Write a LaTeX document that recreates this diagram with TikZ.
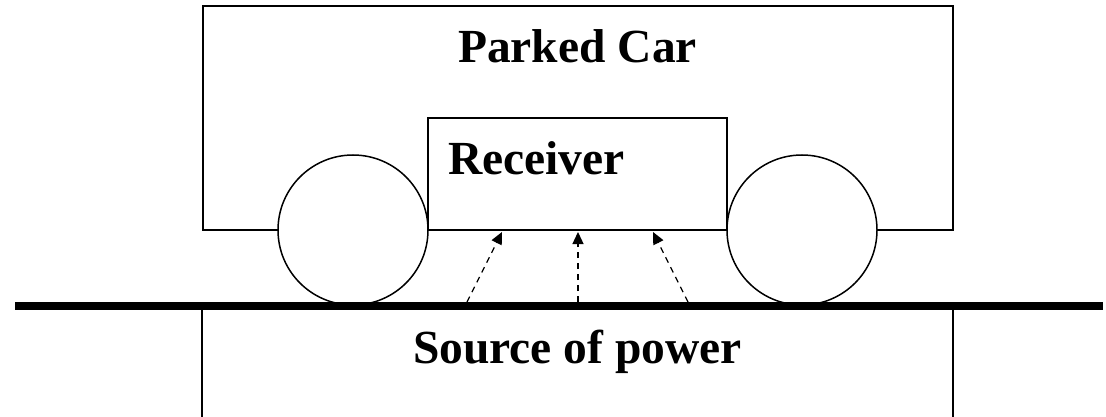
\documentclass[tikz,border=0pt]{standalone}
\usepackage{fontspec}
\setmainfont{Liberation Serif}
\usetikzlibrary{arrows.meta}
\begin{document}
\begin{tikzpicture}[x=1pt,y=-1pt,
  outline/.style={draw=black,line width=1.5pt},
  wheel/.style={outline,fill=white},
  caption/.style={font=\fontsize{47.5}{57}\selectfont\bfseries,anchor=base,inner sep=0pt},
  ray/.style={draw=black,line width=1.3pt,dash pattern=on 6pt off 5pt,
              -{Triangle[length=12pt,width=11pt]}}]
\useasboundingbox (0,0) rectangle (1106,417);
% car body
\draw[outline] (203,6) rectangle (953,230);
% receiver box under the car
\draw[outline,line width=1.2pt] (428,118) rectangle (727,230);
% wheels
\draw[wheel] (353,230) circle[radius=75pt];
\draw[wheel] (802,230) circle[radius=75pt];
% sides of the power source below the road
\draw[outline] (202,306) -- (202,417);
\draw[outline] (953,306) -- (953,417);
% road surface
\draw[line width=7.5pt] (15,306) -- (1103,306);
% labels
\node[caption] (car) at (577.5,63) {Parked Car};
\node[caption] (recv) at (536.5,175) {Receiver};
\node[caption] (src) at (577.5,363) {Source of power};
% power transfer from the road to the receiver
\coordinate (g1) at (467,302);
\coordinate (r1) at (502,232);
\coordinate (g2) at (578,302);
\coordinate (r2) at (578,232);
\coordinate (g3) at (688,302);
\coordinate (r3) at (653,232);
\draw[ray] (g1) -- (r1);
\draw[ray] (g2) -- (r2);
\draw[ray] (g3) -- (r3);
\end{tikzpicture}
\end{document}
